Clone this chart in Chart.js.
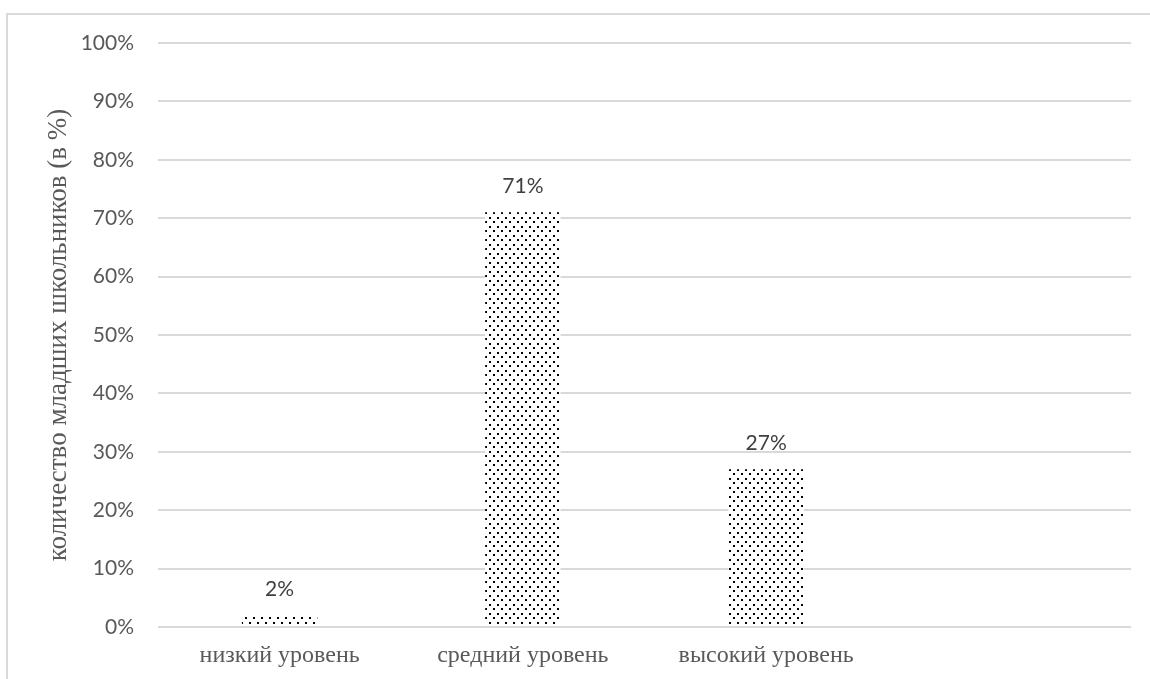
<!DOCTYPE html>
<html lang="ru">
<head>
    <meta charset="UTF-8">
    <title>Уровни</title>
    <script src="https://cdn.jsdelivr.net/npm/chart.js"></script>
    <style>
        html, body { margin: 0; padding: 0; background: #fff; }
        .wrap { position: absolute; left: 0; top: 0; width: 1150px; height: 679px; }
        .frame {
            position: absolute; left: 6px; top: 13px; right: 0; bottom: 0;
            border-left: 2px solid #d9d9d9; border-top: 2px solid #d9d9d9;
            pointer-events: none;
        }
    </style>
</head>
<body>
    <div class="wrap">
        <canvas id="levelChart" width="1150" height="679"></canvas>
        <div class="frame"></div>
    </div>

    <script>
        // данные диаграммы
        const categories = ['низкий уровень', 'средний уровень', 'высокий уровень', ''];
        const values = [2, 71, 27, null];
        const yTicks = [0, 10, 20, 30, 40, 50, 60, 70, 80, 90, 100];
        const yTitle = 'количество младших школьников (в %)';

        // точечная штриховка столбцов
        function dotPattern() {
            const c = document.createElement('canvas');
            c.width = 8;
            c.height = 9;
            const g = c.getContext('2d');
            g.fillStyle = '#fff';
            g.fillRect(0, 0, 8, 9);
            g.fillStyle = '#000';
            g.fillRect(1, 1, 2, 2);
            g.fillRect(5, 5, 2, 2);
            return g.createPattern(c, 'repeat');
        }

        // подписи значений над столбцами
        const valueLabels = {
            id: 'valueLabels',
            afterDatasetsDraw(chart) {
                const ctx = chart.ctx;
                const meta = chart.getDatasetMeta(0);
                ctx.save();
                ctx.font = '21px Lato';
                ctx.fillStyle = '#404040';
                ctx.textAlign = 'center';
                ctx.textBaseline = 'middle';
                meta.data.forEach((bar, i) => {
                    if (values[i] == null) return;
                    ctx.fillText(values[i] + '%', bar.x, bar.y - 26);
                });
                ctx.restore();
            }
        };

        const ctx = document.getElementById('levelChart').getContext('2d');
        new Chart(ctx, {
            type: 'bar',
            data: {
                labels: categories,
                datasets: [{
                    data: values,
                    backgroundColor: dotPattern(),
                    borderWidth: 0,
                    barPercentage: 0.31,
                    categoryPercentage: 1
                }]
            },
            options: {
                responsive: false,
                animation: false,
                layout: { padding: { left: 40, top: 43, right: 19, bottom: 0 } },
                plugins: {
                    legend: { display: false },
                    tooltip: { enabled: false }
                },
                scales: {
                    x: {
                        grid: { display: false, drawTicks: false },
                        border: { display: false },
                        ticks: {
                            padding: 14,
                            color: '#595959',
                            font: { family: 'Liberation Serif', size: 24 }
                        },
                        afterFit: s => { s.height = 52; }
                    },
                    y: {
                        min: 0,
                        max: 100,
                        afterBuildTicks: s => { s.ticks = yTicks.map(v => ({ value: v })); },
                        grid: { color: '#d9d9d9', lineWidth: 2, drawTicks: false },
                        border: { display: false },
                        ticks: {
                            padding: 24,
                            color: '#595959',
                            font: { family: 'Lato', size: 21 },
                            callback: v => v + '%'
                        },
                        title: {
                            display: true,
                            text: yTitle,
                            color: '#595959',
                            font: { family: 'Liberation Serif', size: 27 },
                            padding: { top: 3, bottom: 0 }
                        },
                        afterFit: s => { s.width = 118; }
                    }
                }
            },
            plugins: [valueLabels]
        });
    </script>
</body>
</html>
